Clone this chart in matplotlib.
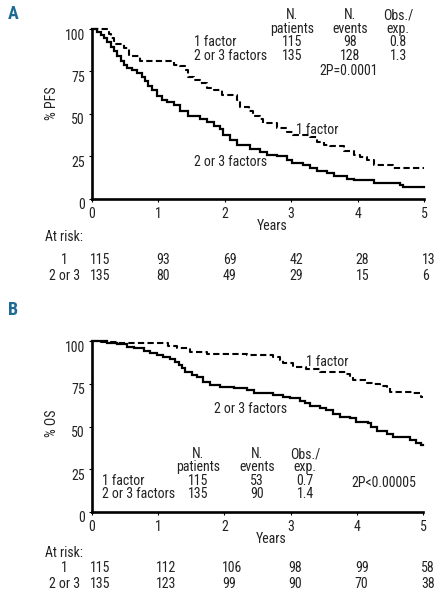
import matplotlib
matplotlib.use("Agg")
import matplotlib.pyplot as plt
from matplotlib.transforms import blended_transform_factory, ScaledTranslation

plt.rcParams['font.family'] = ['Roboto Condensed', 'DejaVu Sans']

# ---- data ----
years = [0, 1, 2, 3, 4, 5]
yticks = [0, 25, 50, 75, 100]

# panel A - progression-free survival
pfs_t_one = [0, 0.25, 0.28, 0.33, 0.35, 0.48, 0.55, 0.73, 1.23, 1.33, 1.40, 1.45, 1.53, 1.63,
             1.73, 1.83, 1.96, 2.18, 2.23, 2.36, 2.43, 2.53, 2.58, 2.78, 2.93, 3.03, 3.28, 3.39,
             3.49, 3.59, 3.79, 3.94, 4.04, 4.14, 4.24, 4.54, 5.0]
pfs_s_one = [100, 97, 95, 93, 91, 89, 84, 81, 79, 78, 76, 72, 70, 68,
             65.5, 64, 61, 58, 54, 52, 49, 47, 44.5, 42, 39.5, 37.5, 36.5, 33.5,
             32, 31, 28, 26, 24.5, 23, 20, 18, 18]
pfs_t_more = [0, 0.08, 0.13, 0.18, 0.23, 0.28, 0.33, 0.38, 0.43, 0.48, 0.53, 0.60, 0.68, 0.75,
              0.80, 0.85, 0.90, 0.98, 1.05, 1.13, 1.23, 1.33, 1.45, 1.63, 1.73, 1.83, 1.93,
              1.98, 2.08, 2.18, 2.38, 2.53, 2.63, 2.78, 2.93, 3.01, 3.18, 3.28, 3.39, 3.54,
              3.64, 3.84, 3.94, 4.24, 4.64, 4.69, 5.0]
pfs_s_more = [100, 98.5, 96.5, 94.5, 92.5, 89.5, 87, 84, 81, 79, 77, 76, 74, 72,
              69.5, 66.5, 64, 60.5, 58.5, 57, 55, 52, 49, 47, 45, 43, 41,
              37.5, 34.5, 31.5, 29.5, 27.5, 26, 25, 23, 21, 20, 18, 16.5, 15,
              13.5, 12, 11, 9.5, 8.5, 7, 7]

# panel B - overall survival
os_t_one = [0, 0.13, 0.38, 1.15, 1.28, 1.48, 1.73, 2.34, 2.74, 2.84, 2.89, 3.04, 3.24, 3.44,
            3.84, 3.89, 3.94, 4.15, 4.25, 4.35, 4.45, 4.50, 4.85, 4.97, 5.0]
os_s_one = [100, 99.2, 98.6, 97, 95.7, 93.4, 92.4, 91.8, 90.4, 88.9, 86.9, 85, 83.6, 82,
            80.7, 78.7, 77.1, 75.6, 74.8, 73.6, 72.3, 70.3, 69.3, 67.4, 67.4]
os_t_more = [0, 0.23, 0.38, 0.53, 0.63, 0.78, 0.88, 0.98, 1.08, 1.18, 1.26, 1.31, 1.36, 1.41,
             1.51, 1.58, 1.68, 1.78, 1.93, 2.14, 2.34, 2.44, 2.64, 2.74, 2.89, 2.99, 3.14,
             3.22, 3.29, 3.44, 3.54, 3.64, 3.74, 3.89, 3.99, 4.17, 4.22, 4.30, 4.45, 4.55,
             4.80, 4.90, 4.97, 5.0]
os_s_more = [100, 99, 98.2, 96.7, 95.7, 94.3, 93.2, 91.8, 90.8, 89.3, 87.9, 85.9, 84, 82,
             80.1, 78.7, 76.2, 74.2, 73.2, 72.3, 71.3, 69.7, 69.3, 68.4, 67.4, 66.4, 65,
             63.5, 61.9, 61.1, 59.6, 57.6, 55.7, 54.7, 52.7, 51.8, 49.8, 47.3, 45.9, 43.9,
             42, 40.4, 39, 39]

groups = ["1 factor", "2 or 3 factors"]
risk_labels = ["1", "2 or 3"]

pfs_patients = [115, 135]
pfs_events = [98, 128]
pfs_oe = ["0.8", "1.3"]
pfs_p = "2P=0.0001"
pfs_risk_one = [115, 93, 69, 42, 28, 13]
pfs_risk_more = [135, 80, 49, 29, 15, 6]

os_patients = [115, 135]
os_events = [53, 90]
os_oe = ["0.7", "1.4"]
os_p = "2P<0.00005"
os_risk_one = [115, 112, 106, 98, 99, 58]
os_risk_more = [135, 123, 99, 90, 70, 38]

W, H = 441, 601
TXT = '#222222'
FS = 10

fig = plt.figure(figsize=(W / 100, H / 100), dpi=100)


def fy(py):
    return 1 - py / H


def setup_axes(ax, ylabel, ylab_y):
    ax.set_xlim(0, 5)
    ax.set_ylim(0, 100)
    for s in ['top', 'right']:
        ax.spines[s].set_visible(False)
    for s in ['left', 'bottom']:
        ax.spines[s].set_linewidth(1.9)
        ax.spines[s].set_color('black')
    ax.set_xticks(years)
    ax.set_yticks(yticks)
    ax.tick_params(length=2, width=0.8, labelsize=FS, labelcolor=TXT, pad=3)
    ax.tick_params(axis='x', pad=4)
    off = ScaledTranslation(0, -0.05, fig.dpi_scale_trans)
    for lab in ax.get_yticklabels():
        lab.set_transform(lab.get_transform() + off)
    fig.text(52 / W, fy(ylab_y), ylabel, rotation=90, ha='center', va='center',
             fontsize=FS, color=TXT)
    tr = blended_transform_factory(ax.transData, ax.transAxes)
    ax.text(2.71, -0.158, "Years", transform=tr, ha='center', va='center',
            fontsize=FS, color=TXT)


def draw_curves(ax, t1, s1, t2, s2):
    ax.plot(t2, s2, drawstyle='steps-post', color='black', lw=1.6, clip_on=False,
            solid_joinstyle='miter')
    ax.plot(t1, s1, drawstyle='steps-post', color='black', lw=1.5, clip_on=False,
            dashes=(3, 1.6))


def risk_table(ax, at_y, row_ys, r1, r2):
    fig.text(45 / W, fy(at_y), "At risk:", ha='left', va='center', fontsize=FS, color=TXT)
    tr = blended_transform_factory(ax.transData, fig.transFigure)
    for lab, ry, vals in zip(risk_labels, row_ys, [r1, r2]):
        fig.text(64.5 / W, fy(ry), lab, ha='center', va='center', fontsize=FS, color=TXT)
        for yr, n in zip(years, vals):
            ax.text(yr - 0.03, fy(ry), str(n), transform=tr, ha='left', va='center',
                    fontsize=FS, color=TXT, clip_on=False)


def stat_table(ax, lab_x, cols, rows_y, patients, events, oe):
    kw = dict(ha='center', va='center', fontsize=FS, color=TXT, clip_on=False)
    ax.text(cols[0], rows_y[0], "N.", **kw)
    ax.text(cols[0], rows_y[1], "patients", **kw)
    ax.text(cols[1], rows_y[0], "N.", **kw)
    ax.text(cols[1], rows_y[1], "events", **kw)
    ax.text(cols[2], rows_y[0], "Obs./", **kw)
    ax.text(cols[2], rows_y[1], "exp.", **kw)
    for i in range(2):
        ax.text(lab_x, rows_y[2 + i], groups[i], ha='left', va='center', fontsize=FS,
                color=TXT, clip_on=False)
        ax.text(cols[0], rows_y[2 + i], str(patients[i]), **kw)
        ax.text(cols[1], rows_y[2 + i], str(events[i]), **kw)
        ax.text(cols[2], rows_y[2 + i], oe[i], **kw)


# ---- panel A ----
axA = fig.add_axes([92 / W, fy(199), (424 - 92) / W, (199 - 29) / H])
draw_curves(axA, pfs_t_one, pfs_s_one, pfs_t_more, pfs_s_more)
setup_axes(axA, "% PFS", 103)
stat_table(axA, 1.54, [3.01, 3.89, 4.61], [108.2, 100, 92.4, 84.1],
           pfs_patients, pfs_events, pfs_oe)
axA.text(3.87, 75.3, pfs_p, ha='center', va='center', fontsize=FS, color=TXT)
axA.text(3.39, 40.6, "1 factor", ha='center', va='center', fontsize=FS, color=TXT)
axA.text(2.08, 21.8, "2 or 3 factors", ha='center', va='center', fontsize=FS, color=TXT)
risk_table(axA, 237, [260, 276], pfs_risk_one, pfs_risk_more)

# ---- panel B ----
axB = fig.add_axes([92 / W, fy(512), (423 - 92) / W, (512 - 341) / H])
draw_curves(axB, os_t_one, os_s_one, os_t_more, os_s_more)
setup_axes(axB, "% OS", 423)
stat_table(axB, 0.15, [1.60, 2.49, 3.22], [33.9, 26.3, 18.1, 10.5],
           os_patients, os_events, os_oe)
axB.text(4.41, 17, os_p, ha='center', va='center', fontsize=FS, color=TXT)
axB.text(3.56, 87.7, "1 factor", ha='center', va='center', fontsize=FS, color=TXT)
axB.text(2.39, 60.2, "2 or 3 factors", ha='center', va='center', fontsize=FS, color=TXT)
risk_table(axB, 553, [568, 584], os_risk_one, os_risk_more)

# panel letters
for letter, py in [("A", 14), ("B", 310)]:
    fig.text(13 / W, fy(py), letter, ha='center', va='center', fontsize=13,
             fontweight='bold', color='#1d6a94')

fig.savefig("out.png", dpi=100)
